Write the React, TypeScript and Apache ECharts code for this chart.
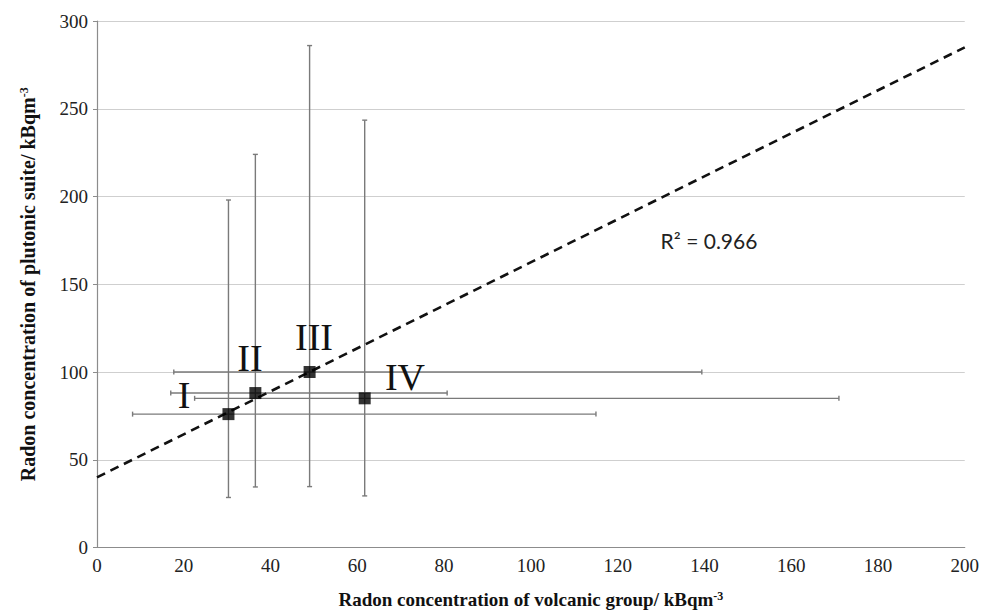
import React, { useEffect, useRef } from "react";
import * as echarts from "echarts";

const groupLabels = ["I", "II", "III", "IV"];
const xVals = [30.3, 36.5, 49.0, 61.7];
const yVals = [76, 88, 100, 85];
const xLow = [8.2, 17.0, 17.7, 22.5];
const xHigh = [115.0, 80.7, 139.4, 171.0];
const yLow = [28.5, 34.5, 34.7, 29.4];
const yHigh = [198, 224, 286, 243.5];
const trendX = [0, 200];
const trendY = [40, 285];
const xTicks = [0, 20, 40, 60, 80, 100, 120, 140, 160, 180, 200];
const yTicks = [0, 50, 100, 150, 200, 250, 300];
const labelPos = [
  [184, 395],
  [250, 358],
  [314, 337],
  [405, 377],
];

const serif = "Liberation Serif, serif";

export default function App() {
  const ref = useRef<HTMLDivElement>(null);
  useEffect(() => {
    if (!ref.current) return;
    const chart = echarts.init(ref.current, undefined, { renderer: "svg" });
    const errData = xVals.map((x, i) => [x, yVals[i], xLow[i], xHigh[i], yLow[i], yHigh[i]]);
    const barStyle = { stroke: "#7a7a7a", lineWidth: 1.4 };
    chart.setOption({
      animation: false,
      backgroundColor: "#ffffff",
      textStyle: { fontFamily: serif },
      grid: { left: 97, right: 13, top: 21, bottom: 64.5, containLabel: false },
      xAxis: {
        type: "value",
        min: xTicks[0],
        max: xTicks[xTicks.length - 1],
        interval: 20,
        name: "{a|Radon concentration of volcanic group/ kBqm}{s|-3}",
        nameLocation: "middle",
        nameGap: 42,
        nameTextStyle: {
          fontFamily: serif,
          rich: {
            a: { fontFamily: serif, fontSize: 19, fontWeight: "bold", color: "#111" },
            s: { fontFamily: serif, fontSize: 12, fontWeight: "bold", color: "#111", verticalAlign: "top", padding: [0, 0, 8, 0] },
          },
        },
        axisLine: { show: true, lineStyle: { color: "#8c8c8c", width: 1.2 } },
        axisTick: { show: false },
        splitLine: { show: false },
        axisLabel: { fontFamily: serif, fontSize: 19, color: "#222", margin: 8 },
      },
      yAxis: {
        type: "value",
        min: yTicks[0],
        max: yTicks[yTicks.length - 1],
        interval: 50,
        name: "{a|Radon concentration of plutonic suite/ kBqm}{s|-3}",
        nameLocation: "middle",
        nameGap: 59,
        nameTextStyle: {
          fontFamily: serif,
          rich: {
            a: { fontFamily: serif, fontSize: 20, fontWeight: "bold", color: "#111" },
            s: { fontFamily: serif, fontSize: 12, fontWeight: "bold", color: "#111", verticalAlign: "top", padding: [0, 0, 8, 0] },
          },
        },
        axisLine: { show: true, lineStyle: { color: "#8c8c8c", width: 1.2 } },
        axisTick: { show: true, length: 4, lineStyle: { color: "#8c8c8c" } },
        splitLine: { show: true, lineStyle: { color: "#cfcfcf", width: 1.2 } },
        axisLabel: { fontFamily: serif, fontSize: 19, color: "#222", margin: 9 },
      },
      series: [
        {
          type: "custom",
          data: errData,
          encode: { x: 0, y: 1 },
          z: 2,
          renderItem: (params: any, api: any) => {
            const x = api.value(0);
            const y = api.value(1);
            const p = api.coord([x, y]);
            const l = api.coord([api.value(2), y]);
            const r = api.coord([api.value(3), y]);
            const b = api.coord([x, api.value(4)]);
            const t = api.coord([x, api.value(5)]);
            const c = 2.5;
            return {
              type: "group",
              children: [
                { type: "line", shape: { x1: l[0], y1: p[1], x2: r[0], y2: p[1] }, style: barStyle },
                { type: "line", shape: { x1: l[0], y1: p[1] - c, x2: l[0], y2: p[1] + c }, style: barStyle },
                { type: "line", shape: { x1: r[0], y1: p[1] - c, x2: r[0], y2: p[1] + c }, style: barStyle },
                { type: "line", shape: { x1: p[0], y1: b[1], x2: p[0], y2: t[1] }, style: barStyle },
                { type: "line", shape: { x1: p[0] - c, y1: b[1], x2: p[0] + c, y2: b[1] }, style: barStyle },
                { type: "line", shape: { x1: p[0] - c, y1: t[1], x2: p[0] + c, y2: t[1] }, style: barStyle },
              ],
            };
          },
        },
        {
          type: "line",
          data: trendX.map((x, i) => [x, trendY[i]]),
          showSymbol: false,
          symbol: "none",
          z: 3,
          lineStyle: { color: "#111", width: 2.6, type: [9, 6] },
        },
        {
          type: "scatter",
          data: xVals.map((x, i) => [x, yVals[i]]),
          symbol: "rect",
          symbolSize: 12,
          z: 4,
          itemStyle: { color: "#000" },
        },
      ],
      graphic: [
        ...groupLabels.map((t, i) => ({
          type: "text",
          x: labelPos[i][0],
          y: labelPos[i][1],
          style: {
            text: t,
            fontFamily: serif,
            fontSize: 38,
            fill: "#111",
            textAlign: "center",
            textVerticalAlign: "middle",
          },
          z: 10,
        })),
        {
          type: "text",
          x: 709,
          y: 240,
          style: {
            text: "R² = 0.966",
            fontFamily: "Lato, sans-serif",
            fontSize: 21,
            fill: "#222",
            textAlign: "center",
            textVerticalAlign: "middle",
          },
          z: 10,
        },
      ],
    });
    return () => chart.dispose();
  }, []);
  return <div ref={ref} style={{ width: 982, height: 614, position: "absolute", left: 0, top: 0 }} />;
}
